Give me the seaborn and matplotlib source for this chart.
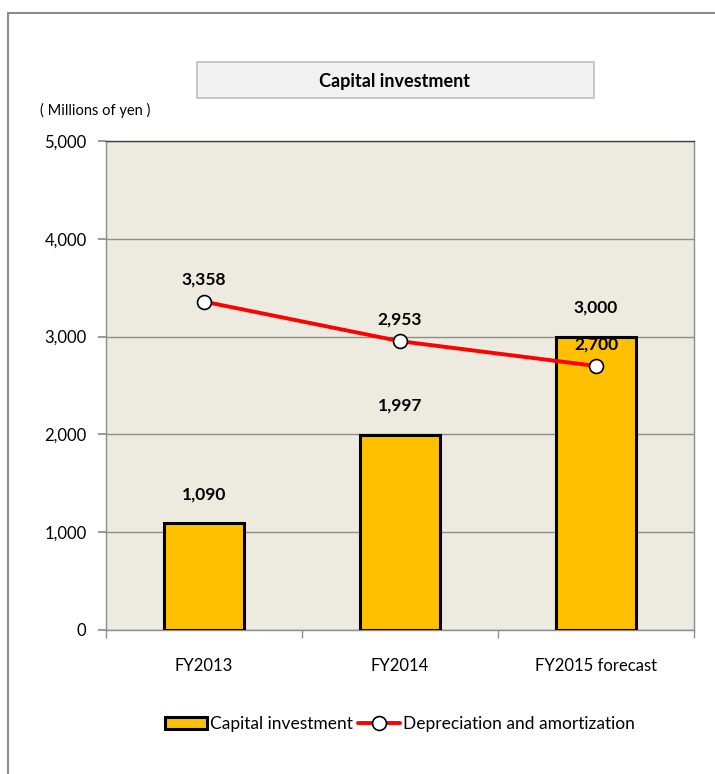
import pandas as pd
import seaborn as sns
import matplotlib.pyplot as plt
from matplotlib.patches import Rectangle
from matplotlib.ticker import FuncFormatter

# chart values
categories = ["FY2013", "FY2014", "FY2015 forecast"]
capital_investment = [1090, 1997, 3000]
depreciation = [3358, 2953, 2700]

df = pd.DataFrame({"Year": categories,
                   "Capital investment": capital_investment,
                   "Depreciation and amortization": depreciation})

sns.set_theme(style="white")
plt.rcParams['font.family'] = ['Lato', 'DejaVu Sans']
plt.rcParams['text.color'] = 'black'
plt.rcParams['xtick.color'] = 'black'
plt.rcParams['ytick.color'] = 'black'

fig = plt.figure(figsize=(7.15, 7.74), dpi=100)
ax = fig.add_axes([106 / 715, 1 - 630 / 774, 588 / 715, 489 / 774])
ax.set_facecolor("#EDEBE0")

# bars
sns.barplot(data=df, x="Year", y="Capital investment", ax=ax, color="#FFC000",
            width=0.41, edgecolor="black", linewidth=2.2, saturation=1,
            label="Capital investment", zorder=3)

# line
sns.lineplot(x=list(range(len(categories))), y=df["Depreciation and amortization"], ax=ax,
             color="#FF0000", linewidth=2.8, marker="o", markersize=10,
             markerfacecolor="white", markeredgecolor="black", markeredgewidth=1.2,
             label="Depreciation and amortization", zorder=4)

# value labels
for i, v in enumerate(capital_investment):
    ax.annotate(f"{v:,}", (i, v), xytext=(0, 15), textcoords="offset points",
                ha="center", va="bottom", fontsize=12.5, fontweight="bold", zorder=5)
for i, v in enumerate(depreciation):
    ax.annotate(f"{v:,}", (i, v), xytext=(0, 10), textcoords="offset points",
                ha="center", va="bottom", fontsize=12.5, fontweight="bold", zorder=5)

ax.set_xlim(-0.5, 2.5)
ax.set_ylim(0, 5000)
ax.set_yticks(range(0, 5001, 1000))
ax.yaxis.set_major_formatter(FuncFormatter(lambda v, p: f"{int(v):,}"))
ax.grid(axis="y", color="#8C8C8C", linewidth=1, zorder=0)
ax.set_axisbelow(True)
ax.set_xlabel("")
ax.set_ylabel("")
ax.tick_params(axis="y", left=True, length=6, color="#8C8C8C", labelcolor="black",
               labelsize=12, pad=8)
ax.tick_params(axis="x", bottom=False, labelcolor="black", labelsize=12, pad=14)
ax.set_xticks([-0.5, 0.5, 1.5, 2.5], minor=True)
ax.tick_params(axis="x", which="minor", bottom=True, length=6, color="#8C8C8C")
for s in ax.spines.values():
    s.set_color("#8C8C8C")
    s.set_linewidth(1)
ax.spines["top"].set_color("#404040")

# legend: bars first
h, l = ax.get_legend_handles_labels()
order = [l.index("Capital investment"), l.index("Depreciation and amortization")]
ax.legend([h[k] for k in order], [l[k] for k in order], loc="center",
          bbox_to_anchor=(400 / 715, 1 - 724 / 774),
          bbox_transform=fig.transFigure, ncol=2, frameon=False, fontsize=12.5,
          handlelength=2.4, handletextpad=0.2, columnspacing=0.3)

# title box and unit label
fig.add_artist(Rectangle((197 / 715, 1 - 98 / 774), 397 / 715, 36 / 774,
                         transform=fig.transFigure, facecolor="#F2F2F2",
                         edgecolor="#BFBFBF", linewidth=1.2))
fig.text(395 / 715, 1 - 81 / 774, "Capital investment", ha="center", va="center",
         fontsize=13, fontweight="bold")
fig.text(40 / 715, 1 - 110 / 774, "( Millions of yen )", ha="left", va="center", fontsize=10.5)

# outer frame
fig.add_artist(Rectangle((8 / 715, -0.05), 1.0, 1 - 13 / 774 + 0.05,
                         transform=fig.transFigure, facecolor="none",
                         edgecolor="#8C8C8C", linewidth=1.5))

fig.savefig("out.png", dpi=100)
